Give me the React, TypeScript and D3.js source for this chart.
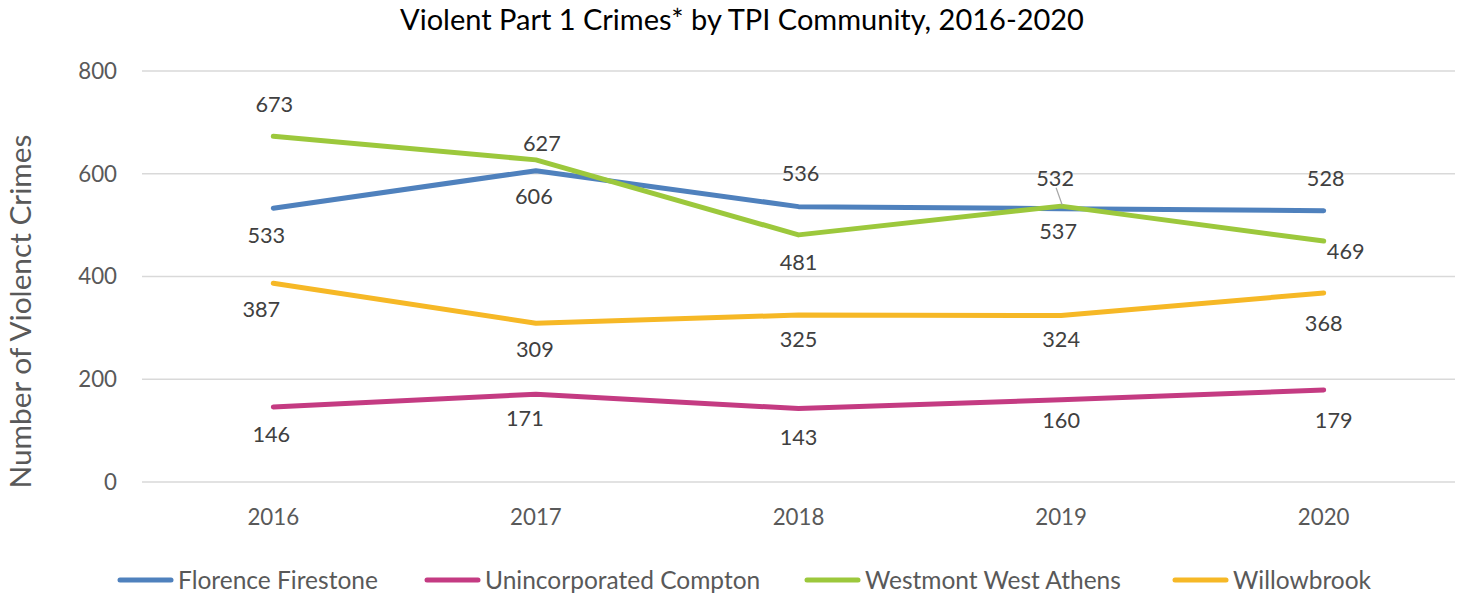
import React from 'react'
import * as d3 from 'd3'

const years = ['2016', '2017', '2018', '2019', '2020']
const seriesNames = ['Florence Firestone', 'Unincorporated Compton', 'Westmont West Athens', 'Willowbrook']
const florence = [533, 606, 536, 532, 528]
const compton = [146, 171, 143, 160, 179]
const westmont = [673, 627, 481, 537, 469]
const willowbrook = [387, 309, 325, 324, 368]
const yTicks = [0, 200, 400, 600, 800]

// label offsets (px) from each point, like the manually nudged excel labels
const florenceOff = [[-7, 27], [-2, 26], [2, -33], [-6, -30], [2, -32]]
const comptonOff = [[-2, 27], [-11, 24], [0, 29], [0, 21], [10, 30]]
const westmontOff = [[1, -32], [6, -16], [0, 28], [-3, 25], [22, 10]]
const willowbrookOff = [[-12, 26], [-1, 26], [0, 24], [0, 24], [0, 30]]

const colors = ['#4F81BD', '#C43B82', '#9CC83C', '#F6B826']
const font = 'Lato, sans-serif'

const W = 1463
const H = 594
const margin = {left: 142, right: 8, top: 71, bottom: 112}

export default function App () {
  const x = d3.scaleBand().domain(years).range([margin.left, W - margin.right])
  const y = d3.scaleLinear().domain([0, 800]).range([H - margin.bottom, margin.top])
  const cx = (yr: string) => (x(yr) as number) + x.bandwidth() / 2

  const series = [
    {name: seriesNames[0], values: florence, off: florenceOff, color: colors[0]},
    {name: seriesNames[1], values: compton, off: comptonOff, color: colors[1]},
    {name: seriesNames[2], values: westmont, off: westmontOff, color: colors[2]},
    {name: seriesNames[3], values: willowbrook, off: willowbrookOff, color: colors[3]}
  ]
  const line = d3.line<number>().x((d, i) => cx(years[i])).y((d) => y(d))

  // legend layout
  const legendX = [118, 425, 805, 1173]

  return (
    <svg width={W} height={H} style={{position: 'absolute', left: 0, top: 0, background: '#fff'}} fontFamily={font}>
      <text x={742} y={30} textAnchor='middle' fontSize={29} fill='#000'>
        Violent Part 1 Crimes* by TPI Community, 2016-2020
      </text>
      {yTicks.map((t) => (
        <g key={t}>
          <line x1={margin.left} x2={W - margin.right} y1={y(t)} y2={y(t)} stroke='#d9d9d9' strokeWidth={1.3} />
          <text x={117} y={y(t)} dy='0.35em' textAnchor='end' fontSize={22.3} fill='#595959'>{t}</text>
        </g>
      ))}
      {years.map((yr) => (
        <text key={yr} x={cx(yr)} y={517} dy='0.35em' textAnchor='middle' fontSize={22.3} fill='#595959'>{yr}</text>
      ))}
      <text transform={`translate(31,${(y(0) + y(800)) / 2 + 35}) rotate(-90)`} textAnchor='middle' fontSize={29.8} fill='#595959'>
        Number of Violenct Crimes
      </text>
      {series.map((s) => (
        <path key={s.name} d={line(s.values) || ''} fill='none' stroke={s.color} strokeWidth={5} strokeLinecap='round' strokeLinejoin='round' />
      ))}
      {/* leader line for 532 */}
      <line x1={cx('2019') - 5} y1={y(532) - 21} x2={cx('2019') + 1} y2={y(532) - 4} stroke='#a6a6a6' strokeWidth={1.2} />
      {series.map((s) => s.values.map((v, i) => (
        <text key={s.name + i} x={cx(years[i]) + s.off[i][0]} y={y(v) + s.off[i][1]} dy='0.35em' textAnchor='middle' fontSize={21.7} fill='#404040'>
          {v}
        </text>
      )))}
      {series.map((s, i) => (
        <g key={s.name} transform={`translate(${legendX[i]},580)`}>
          <line x1={2} x2={53} y1={0} y2={0} stroke={s.color} strokeWidth={5} strokeLinecap='round' />
          <text x={60} y={0} dy='0.35em' fontSize={24.5} fill='#595959'>{s.name}</text>
        </g>
      ))}
    </svg>
  )
}
